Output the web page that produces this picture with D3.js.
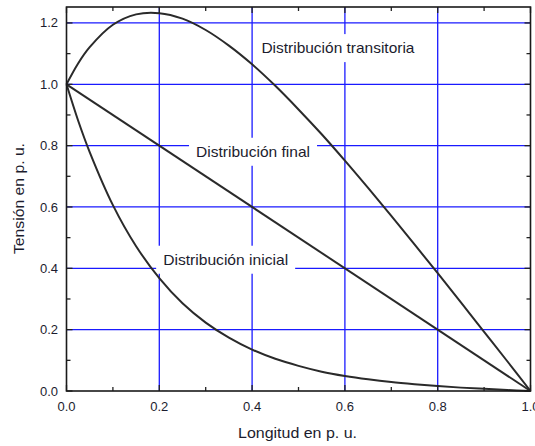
<!DOCTYPE html>
<html><head><meta charset="utf-8">
<script src="https://cdn.jsdelivr.net/npm/d3@7"></script>
<style>body{margin:0;background:#fff}svg{display:block}text{font-family:"Liberation Sans",Arial,sans-serif}</style>
</head><body><svg id="c" width="535" height="446"></svg>
<script>
const xVals = [0, 0.025, 0.05, 0.1, 0.15, 0.2, 0.25, 0.3, 0.35, 0.4, 0.45, 0.5, 0.55, 0.6, 0.65, 0.7, 0.75, 0.8, 0.85, 0.9, 0.95, 1.0];
const inicial = [1.0, 0.882, 0.779, 0.606, 0.472, 0.368, 0.286, 0.223, 0.174, 0.135, 0.105, 0.082, 0.063, 0.049, 0.038, 0.029, 0.022, 0.016, 0.011, 0.007, 0.003, 0];
const transitoria = [1.0, 1.068, 1.121, 1.194, 1.228, 1.232, 1.214, 1.177, 1.126, 1.065, 0.995, 0.918, 0.837, 0.751, 0.662, 0.571, 0.478, 0.384, 0.289, 0.193, 0.097, 0];
const finalX = [0, 1];
const finalY = [1.0, 0];
const xTicks = [0.0, 0.2, 0.4, 0.6, 0.8, 1.0];
const yTicks = [0.0, 0.2, 0.4, 0.6, 0.8, 1.0, 1.2];
const labels = [
  {text: "Distribución transitoria", x: 0.585, y: 1.118, w: 153},
  {text: "Distribución final", x: 0.402, y: 0.780, w: 114},
  {text: "Distribución inicial", x: 0.343, y: 0.428, w: 125}
];

const svg = d3.select("#c");
const L = 66.5, R = 530.5, T = 7, B = 391;
const x = d3.scaleLinear().domain([0, 1]).range([L, R]);
const y = d3.scaleLinear().domain([0, 1.252]).range([B, T]);
const txt = "#1c1c2e";

// grid
const g = svg.append("g");
g.selectAll(".gx").data(xTicks.filter(d => d > 0 && d < 1)).join("line")
  .attr("x1", d => x(d)).attr("x2", d => x(d)).attr("y1", T).attr("y2", B)
  .attr("stroke", "#1a1aff").attr("stroke-width", 1.3);
g.selectAll(".gy").data(yTicks.filter(d => d > 0)).join("line")
  .attr("x1", L).attr("x2", R).attr("y1", d => y(d)).attr("y2", d => y(d))
  .attr("stroke", "#1a1aff").attr("stroke-width", 1.3);

// labels with white backgrounds
const lab = svg.append("g");
labels.forEach(l => {
  const t = lab.append("text").attr("x", x(l.x)).attr("y", y(l.y)).attr("text-anchor", "middle")
    .attr("dominant-baseline", "central").attr("font-size", 14.5).attr("fill", txt)
    .attr("textLength", l.w).attr("lengthAdjust", "spacingAndGlyphs").text(l.text);
  const bb = t.node().getBBox();
  lab.insert("rect", "text").attr("x", x(l.x) - l.w / 2 - 7).attr("y", bb.y - 6)
    .attr("width", l.w + 14).attr("height", bb.height + 12).attr("fill", "#fff");
});

// curves
const line = d3.line().x(d => x(d[0])).y(d => y(d[1])).curve(d3.curveCatmullRom.alpha(0.5));
const series = [
  xVals.map((v, i) => [v, inicial[i]]),
  xVals.map((v, i) => [v, transitoria[i]]),
  finalX.map((v, i) => [v, finalY[i]])
];
svg.append("g").selectAll("path").data(series).join("path")
  .attr("d", line).attr("fill", "none").attr("stroke", "#2a2a2a").attr("stroke-width", 2);

// frame and ticks
const ax = svg.append("g");
const minorX = d3.range(0, 1.0001, 0.1);
const minorY = d3.range(0, 1.2501, 0.1);
minorX.forEach(v => {
  const maj = Math.abs(Math.round(v * 5) - v * 5) < 1e-6;
  const len = maj ? 6 : 4;
  ax.append("line").attr("x1", x(v)).attr("x2", x(v)).attr("y1", B).attr("y2", B - len).attr("stroke", "#222").attr("stroke-width", 1.3);
  ax.append("line").attr("x1", x(v)).attr("x2", x(v)).attr("y1", T).attr("y2", T + len).attr("stroke", "#222").attr("stroke-width", 1.3);
});
minorY.forEach(v => {
  const maj = Math.abs(Math.round(v * 5) - v * 5) < 1e-6;
  const len = maj ? 6 : 4;
  ax.append("line").attr("x1", L).attr("x2", L + len).attr("y1", y(v)).attr("y2", y(v)).attr("stroke", "#222").attr("stroke-width", 1.3);
  ax.append("line").attr("x1", R).attr("x2", R - len).attr("y1", y(v)).attr("y2", y(v)).attr("stroke", "#222").attr("stroke-width", 1.3);
});
ax.append("rect").attr("x", L).attr("y", T).attr("width", R - L).attr("height", B - T)
  .attr("fill", "none").attr("stroke", "#1a1a1a").attr("stroke-width", 1.6);

// tick labels
svg.append("g").selectAll("text").data(xTicks).join("text")
  .attr("x", d => x(d)).attr("y", 411).attr("text-anchor", "middle").attr("font-size", 13)
  .attr("fill", txt).text(d => d.toFixed(1));
svg.append("g").selectAll("text").data(yTicks).join("text")
  .attr("x", 58).attr("y", d => y(d)).attr("dy", "0.35em").attr("text-anchor", "end").attr("font-size", 13)
  .attr("fill", txt).text(d => d.toFixed(1));

// axis titles
svg.append("text").attr("x", 297.5).attr("y", 438).attr("text-anchor", "middle").attr("font-size", 14.5)
  .attr("fill", txt).attr("textLength", 119).attr("lengthAdjust", "spacingAndGlyphs").text("Longitud en p. u.");
svg.append("text").attr("transform", "translate(24,198.5) rotate(-90)").attr("text-anchor", "middle").attr("font-size", 14)
  .attr("fill", txt).attr("textLength", 111).attr("lengthAdjust", "spacingAndGlyphs").text("Tensión en p. u.");
</script></body></html>
